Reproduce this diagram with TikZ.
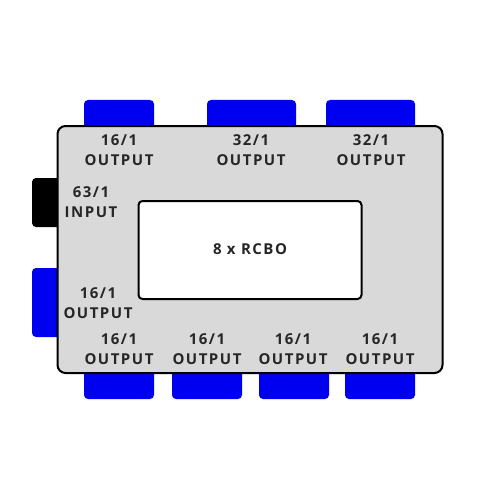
\documentclass[tikz,border=0pt]{standalone}
\usepackage{fontspec}
\setmainfont{Open Sans}[BoldFont={* Bold}]
\newfontfamily\lblfont{Open Sans Bold}[LetterSpace=10]
\definecolor{tabblue}{RGB}{0,0,240}
\definecolor{boxgray}{RGB}{217,217,217}
\begin{document}
\begin{tikzpicture}[x=1pt,y=-1pt,
  tab/.style={fill=tabblue, rounded corners=4pt},
  lbl/.style={font=\lblfont\fontsize{15}{19.5}\selectfont, align=center, inner sep=0pt, text=black!85}]
\useasboundingbox (0,0) rectangle (500,500);
% tabs
\fill[tab] (84,100) rectangle (154,140);
\fill[tab] (207,100) rectangle (296,140);
\fill[tab] (326,100) rectangle (415,140);
\fill[tab] (84,360) rectangle (154,399);
\fill[tab] (172,360) rectangle (242,399);
\fill[tab] (259,360) rectangle (329,399);
\fill[tab] (345,360) rectangle (415,399);
\fill[black, rounded corners=4pt] (32,178) rectangle (70,227);
\fill[tab] (32,268) rectangle (70,337);
% main box
\node[draw=black, line width=2pt, fill=boxgray, rounded corners=8pt, minimum width=385pt, minimum height=247pt, inner sep=0pt] (main) at (250,249.5) {};
\node[draw=black, line width=2pt, fill=white, rounded corners=4pt, minimum width=223pt, minimum height=98pt, inner sep=0pt] (rcbo) at (250,250) {};
\node[lbl] (rcbotxt) at (250,249) {8 x RCBO};
% labels
\node[lbl] (t1) at (119,150) {16/1\\OUTPUT};
\node[lbl] (t2) at (251,150) {32/1\\OUTPUT};
\node[lbl] (t3) at (371,150) {32/1\\OUTPUT};
\node[lbl] (in) at (91,202) {63/1\\INPUT};
\node[lbl] (l1) at (98,303) {16/1\\OUTPUT};
\node[lbl] (b1) at (119,349) {16/1\\OUTPUT};
\node[lbl] (b2) at (207,349) {16/1\\OUTPUT};
\node[lbl] (b3) at (293,349) {16/1\\OUTPUT};
\node[lbl] (b4) at (380,349) {16/1\\OUTPUT};
\end{tikzpicture}
\end{document}
